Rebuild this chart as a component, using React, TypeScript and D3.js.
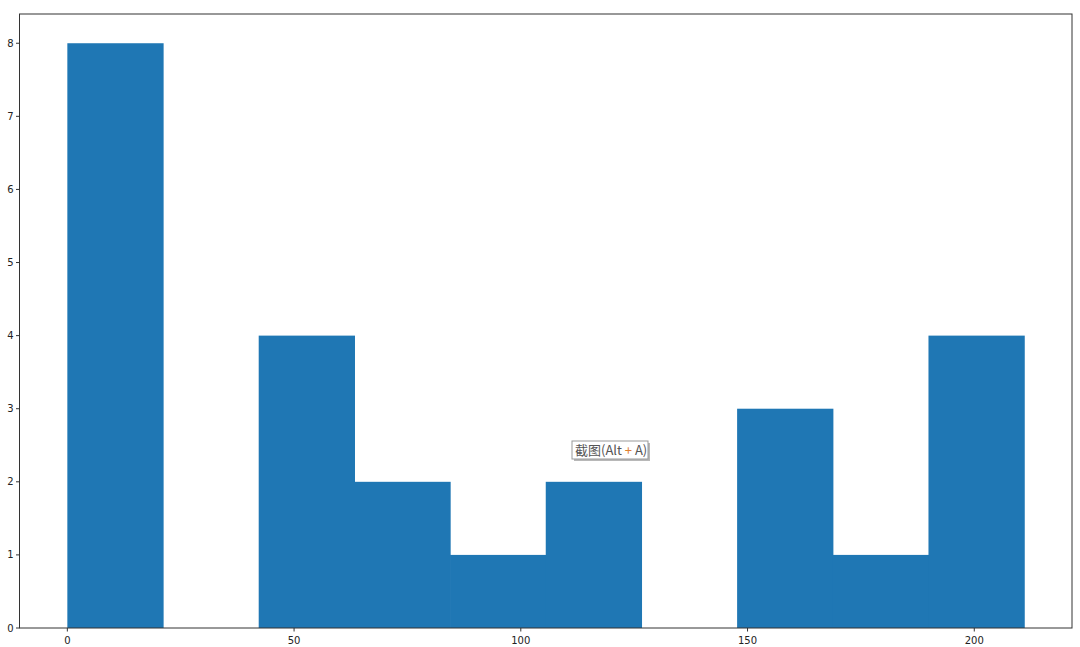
import React from "react";
import * as d3 from "d3";

const counts = [8, 0, 4, 2, 1, 2, 0, 3, 1, 4];
const dataMin = 0;
const dataMax = 211;
const xTicks = [0, 50, 100, 150, 200];
const yTicks = [0, 1, 2, 3, 4, 5, 6, 7, 8];

const W = 1080, H = 647;
const L = 19.5, R = 1072, T = 14, B = 628;

export default function App() {
  const nb = counts.length;
  const bw = (dataMax - dataMin) / nb;
  const pad = (dataMax - dataMin) * 0.05;
  const x = d3.scaleLinear().domain([dataMin - pad, dataMax + pad]).range([L, R]);
  const y = d3.scaleLinear().domain([0, d3.max(counts)! * 1.05]).range([B, T]);
  const font = "DejaVu Sans, sans-serif";
  return (
    <svg width={W} height={H} style={{ position: "absolute", left: 0, top: 0, background: "#fff" }}>
      <rect x={0} y={0} width={W} height={H} fill="#fff" />
      {counts.map((c, i) => {
        const x0 = x(dataMin + i * bw), x1 = x(dataMin + (i + 1) * bw);
        return c > 0 ? (
          <rect key={i} x={x0} y={y(c)} width={x1 - x0 + 0.6} height={y(0) - y(c)} fill="#1f77b4" />
        ) : null;
      })}
      <rect x={L} y={T} width={R - L} height={B - T} fill="none" stroke="#333" strokeWidth={1} />
      {xTicks.map((t) => (
        <g key={t} transform={`translate(${x(t)},${B})`}>
          <line y1={0} y2={3.5} stroke="#333" />
          <text y={16} textAnchor="middle" fontSize={10} fontFamily={font} fill="#222">{t}</text>
        </g>
      ))}
      {yTicks.map((t) => (
        <g key={t} transform={`translate(${L},${y(t)})`}>
          <line x1={0} x2={-3.5} stroke="#333" />
          <text x={-6} dy="0.35em" textAnchor="end" fontSize={10} fontFamily={font} fill="#222">{t}</text>
        </g>
      ))}
      <g>
        <rect x={574} y={443} width={76} height={18} fill="#888" opacity={0.6} />
        <rect x={572} y={441} width={76} height={18} fill="#fff" stroke="#999" strokeWidth={1} />
        <text x={575} y={455} fontSize={13} fontFamily="Noto Sans CJK SC, sans-serif" fill="#555"
          style={{ whiteSpace: "pre" }}>
          <tspan>{"截图(Alt\u00a0"}</tspan>
          <tspan fill="#e08030">+</tspan>
          <tspan>{"\u00a0A)"}</tspan>
        </text>
      </g>
    </svg>
  );
}
